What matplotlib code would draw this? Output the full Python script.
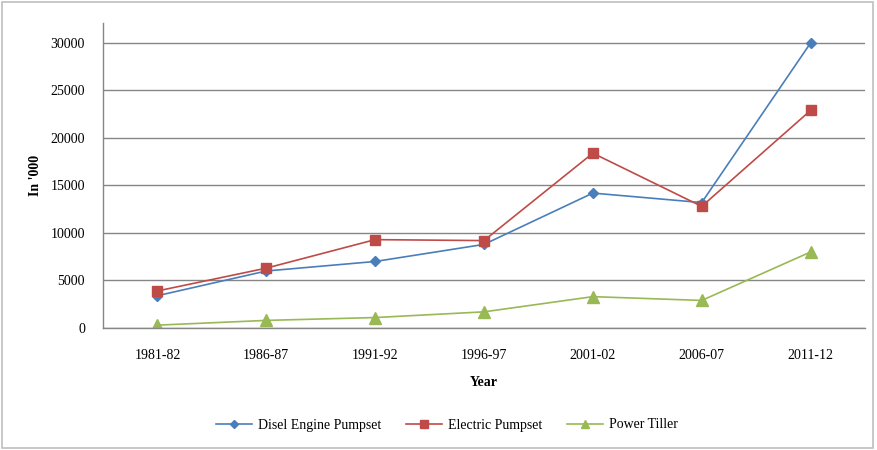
import matplotlib
matplotlib.use("Agg")
import matplotlib.pyplot as plt
from matplotlib.patches import Rectangle

years = ["1981-82", "1986-87", "1991-92", "1996-97", "2001-02", "2006-07", "2011-12"]
diesel = [3400, 6000, 7000, 8800, 14200, 13200, 30000]
electric = [3900, 6300, 9300, 9200, 18400, 12800, 22900]
tiller = [300, 800, 1100, 1700, 3300, 2900, 8000]
yticks = [0, 5000, 10000, 15000, 20000, 25000, 30000]

plt.rcParams['font.family'] = ['Liberation Serif', 'DejaVu Serif']

fig = plt.figure(figsize=(8.77, 4.5), dpi=100)
ax = fig.add_axes([103/877, 1-328/450, (865-103)/877, (328-23)/450])

x = list(range(len(years)))
ax.plot(x, diesel, color='#4A7EBB', marker='D', markersize=5.5, linewidth=1.2, label='Disel Engine Pumpset')
ax.plot(x, electric, color='#BE4B48', marker='s', markersize=7.5, linewidth=1.2, label='Electric Pumpset')
ax.plot(x, tiller, color='#98B954', marker='^', markersize=8, linewidth=1.2, label='Power Tiller')

ax.set_xlim(-0.5, len(years) - 0.5)
ax.set_ylim(0, 32100)
ax.set_yticks(yticks)
ax.set_yticklabels([str(v) for v in yticks], fontsize=10)
ax.set_xticks(x)
ax.set_xticklabels(years, fontsize=10)
ax.tick_params(axis='both', length=0)
ax.tick_params(axis='y', pad=13)
ax.tick_params(axis='x', pad=15)
ax.grid(axis='y', color='#868686', linewidth=1.0)
ax.set_axisbelow(True)
for s in ['top', 'right']:
    ax.spines[s].set_visible(False)
for s in ['left', 'bottom']:
    ax.spines[s].set_color('#868686')
    ax.spines[s].set_linewidth(1.0)

ax.set_ylabel("In '000", fontsize=10, fontweight='bold', labelpad=6)
ax.set_xlabel("Year", fontsize=10, fontweight='bold', labelpad=10)

fig.legend(loc='center', bbox_to_anchor=(447/877, 1-425/450), ncol=3, frameon=False,
           fontsize=10, handlelength=2.6, columnspacing=1.8, handletextpad=0.4,
           markerscale=0.75)

fig.patches.append(Rectangle((0.002, 0.004), 0.994, 0.992, transform=fig.transFigure,
                             fill=False, edgecolor='#BFBFBF', linewidth=1.2))

fig.savefig("out.png", dpi=100)
